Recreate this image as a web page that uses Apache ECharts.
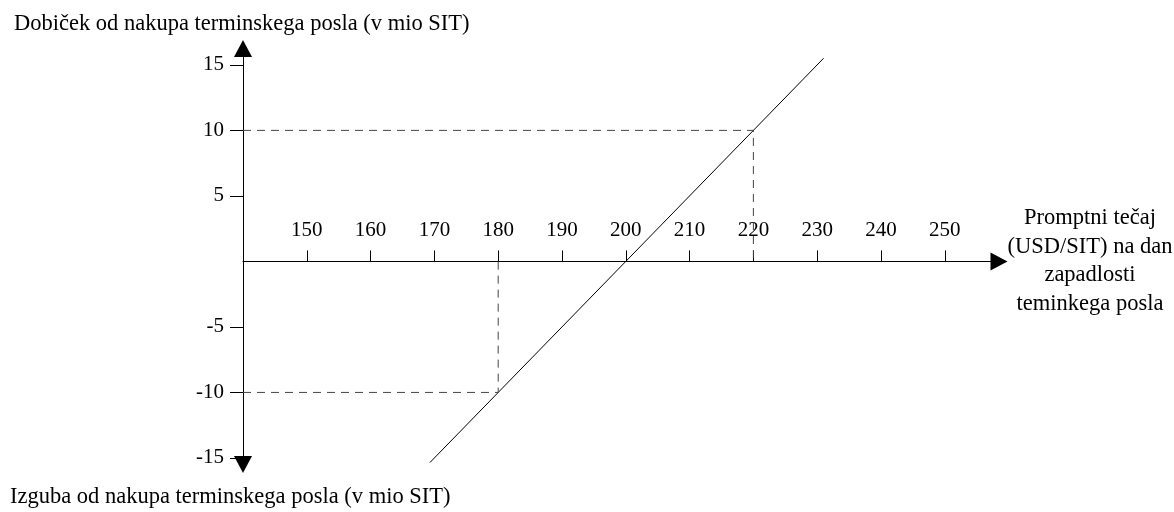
<!DOCTYPE html>
<html>
<head>
<meta charset="utf-8">
<script src="https://cdn.jsdelivr.net/npm/echarts@6/dist/echarts.min.js"></script>
<style>html,body{margin:0;padding:0;background:#fff}#c{width:1174px;height:512px}</style>
</head>
<body>
<div id="c"></div>
<script>
// ---- data ----
const xTickValues = [150, 160, 170, 180, 190, 200, 210, 220, 230, 240, 250];
const xTickLabels = ['150', '160', '170', '180', '190', '200', '210', '220', '230', '240', '250'];
const yTickValues = [-15, -10, -5, 5, 10, 15];
const yTickLabels = ['-15', '-10', '-5', '5', '10', '15'];
const payoffX = [169.3, 231];
const payoffY = [-15.35, 15.5];
const guideHighX = [140, 220, 220];
const guideHighY = [10, 10, 0];
const guideLowX = [140, 180, 180];
const guideLowY = [-10, -10, 0];
const yTitle = 'Dobiček od nakupa terminskega posla (v mio SIT)';
const yTitleNeg = 'Izguba od nakupa terminskega posla (v mio SIT)';
const xTitle = 'Promptni tečaj\n(USD/SIT) na dan\nzapadlosti\nteminkega posla';

const FONT = "'Liberation Serif', 'Times New Roman', serif";
const zip = (xs, ys) => xs.map((x, i) => [x, ys[i]]);
const labelMap = {};
xTickValues.forEach((v, i) => labelMap[v] = xTickLabels[i]);
const yLabelMap = {};
yTickValues.forEach((v, i) => yLabelMap[v] = yTickLabels[i]);

const chart = echarts.init(document.getElementById('c'), null, {renderer: 'canvas'});
chart.setOption({
  animation: false,
  backgroundColor: '#fff',
  title: [
    {text: yTitle, left: 9, top: 8, textStyle: {fontFamily: FONT, fontSize: 22.5, fontWeight: 'normal', color: '#000'}},
    {text: yTitleNeg, left: 5, top: 481, textStyle: {fontFamily: FONT, fontSize: 22.5, fontWeight: 'normal', color: '#000'}},
    {text: xTitle, left: 1085, top: 199, textAlign: 'center',
     textStyle: {fontFamily: FONT, fontSize: 22.5, fontWeight: 'normal', color: '#000', lineHeight: 28.5, align: 'center'}}
  ],
  grid: {left: 243, right: 175, top: 48.5, bottom: 47.5, containLabel: false},
  xAxis: {
    type: 'value', min: 140, max: 258.5, interval: 10,
    splitLine: {show: false},
    axisLine: {onZero: true, lineStyle: {color: '#000', width: 1}, symbol: ['none', 'triangle'], symbolSize: [18, 17]},
    axisTick: {show: true, inside: true, length: 11, lineStyle: {color: '#000'}, customValues: xTickValues},
    axisLabel: {inside: true, margin: 224, fontFamily: FONT, fontSize: 21, color: '#000',
      customValues: xTickValues, formatter: v => labelMap[v] || ''}
  },
  yAxis: {
    type: 'value', min: -15.5, max: 16.25, interval: 5,
    splitLine: {show: false},
    axisLine: {onZero: false, lineStyle: {color: '#000', width: 1}, symbol: ['triangle', 'triangle'], symbolSize: [18, 17]},
    axisTick: {show: true, length: 13, lineStyle: {color: '#000'}, customValues: yTickValues},
    axisLabel: {margin: 19, fontFamily: FONT, fontSize: 21, color: '#000',
      customValues: yTickValues, formatter: v => yLabelMap[v] || ''}
  },
  series: [
    {type: 'line', data: zip(payoffX, payoffY), symbol: 'none', clip: false,
     lineStyle: {color: '#000', width: 1}},
    {type: 'line', data: zip(guideHighX, guideHighY), symbol: 'none', clip: false,
     lineStyle: {color: '#444', width: 1, type: [8, 6]}},
    {type: 'line', data: zip(guideLowX, guideLowY), symbol: 'none', clip: false,
     lineStyle: {color: '#444', width: 1, type: [8, 6]}}
  ]
});
</script>
</body>
</html>
